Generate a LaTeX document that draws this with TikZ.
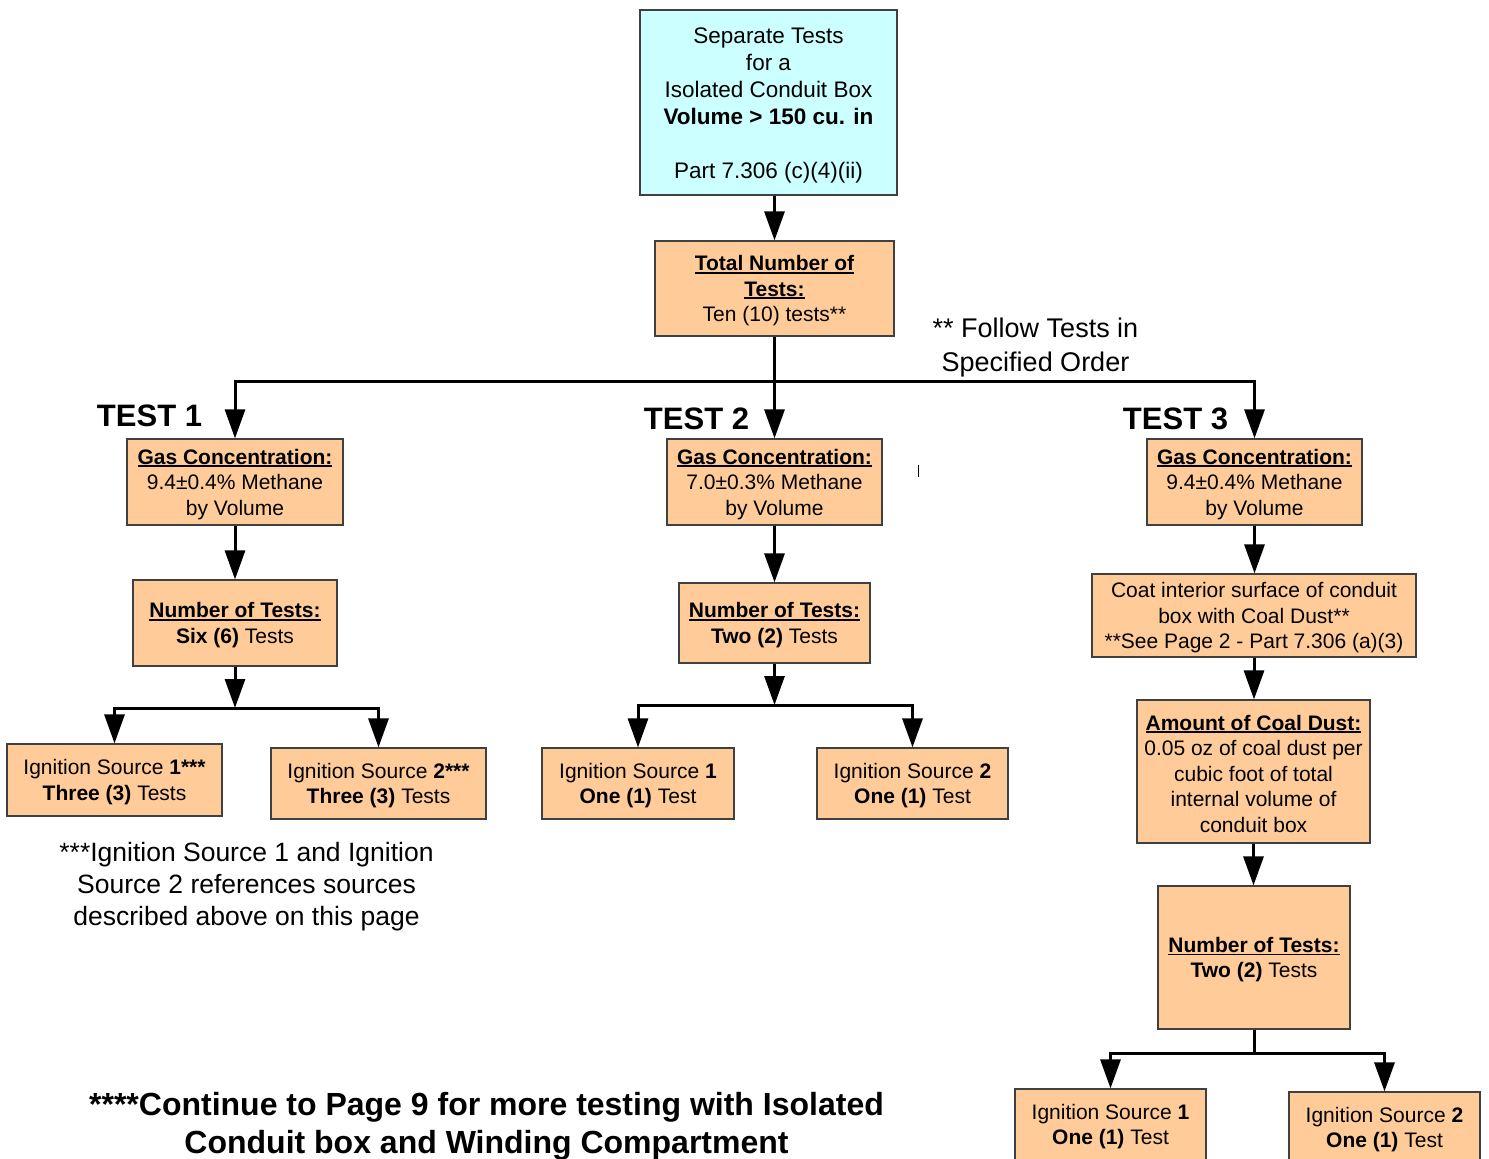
\documentclass[tikz,border=0pt]{standalone}
\usepackage{fontspec}
\setmainfont{Liberation Sans}
\usetikzlibrary{arrows.meta}
\definecolor{peach}{HTML}{FFCC99}
\definecolor{cyanbox}{HTML}{CCFFFF}
\newcommand{\hdr}[1]{\setbox0\hbox{\textbf{#1}}\rlap{\rule[-3pt]{\wd0}{1.8pt}}\box0}
\newcommand{\tp}{\rule{0pt}{19.5pt}}
\newcommand{\tpbig}{\rule{0pt}{21.5pt}}
\tikzset{
  box/.style={draw=black!75, line width=1.2pt, fill=peach, align=center, inner sep=0pt,
              font=\fontsize{21}{25.5}\selectfont},
  arr/.style={line width=3pt, -{Triangle[width=20pt,length=29pt]}},
  ln/.style={line width=3pt},
  testlbl/.style={inner sep=0pt, font=\fontsize{31}{37}\selectfont\bfseries}
}
\begin{document}
\begin{tikzpicture}[x=1pt,y=-1pt]
\clip (0,0) rectangle (1489,1159);
\fill[white] (0,0) rectangle (1489,1159);

% top box
\node[box, fill=cyanbox, minimum width=257pt, minimum height=185pt,
      font=\fontsize{22.5}{27}\selectfont] (top) at (768.5,102.5)
  {\tpbig Separate Tests\\for a\\Isolated Conduit Box\\\textbf{Volume > 150 cu. in}\\[27pt]Part 7.306 (c)(4)(ii)};

\node[box, minimum width=239pt, minimum height=95pt] (total) at (774.5,288.5)
  {\tp\hdr{Total Number of}\\\hdr{Tests:}\\Ten (10) tests**};

\node[align=center, inner sep=0pt, font=\fontsize{27}{34}\selectfont] (follow) at (1035.5,348)
  {** Follow Tests in\\Specified Order};

% test labels
\node[testlbl] (t1) at (149.5,416) {TEST 1};
\node[testlbl] (t2) at (696.5,419) {TEST 2};
\node[testlbl] (t3) at (1175.5,419) {TEST 3};

% column 1
\node[box, minimum width=216pt, minimum height=86pt] (gas1) at (235,482)
  {\tp\hdr{Gas Concentration:}\\9.4±0.4\% Methane\\by Volume};
\node[box, minimum width=204pt, minimum height=86pt] (num1) at (235,623)
  {\tp\hdr{Number of Tests:}\\\textbf{Six (6)} Tests};
\node[box, minimum width=215pt, minimum height=72pt] (is1a) at (114.5,780)
  {\tp Ignition Source \textbf{1***}\\\textbf{Three (3)} Tests};
\node[box, minimum width=215pt, minimum height=71pt] (is2a) at (378.5,783.5)
  {\tp Ignition Source \textbf{2***}\\\textbf{Three (3)} Tests};

% column 2
\node[box, minimum width=215pt, minimum height=86pt] (gas2) at (774.5,482)
  {\tp\hdr{Gas Concentration:}\\7.0±0.3\% Methane\\by Volume};
\node[box, minimum width=191pt, minimum height=80pt] (num2) at (774.5,623)
  {\tp\hdr{Number of Tests:}\\\textbf{Two (2)} Tests};
\node[box, minimum width=192pt, minimum height=71pt] (is1b) at (638,783.5)
  {\tp Ignition Source \textbf{1}\\\textbf{One (1)} Test};
\node[box, minimum width=191pt, minimum height=71pt] (is2b) at (912.5,783.5)
  {\tp Ignition Source \textbf{2}\\\textbf{One (1)} Test};

% column 3
\node[box, minimum width=215pt, minimum height=86pt] (gas3) at (1254.5,482)
  {\tp\hdr{Gas Concentration:}\\9.4±0.4\% Methane\\by Volume};
\node[box, minimum width=324pt, minimum height=83pt] (coat) at (1254,615.5)
  {\tp Coat interior surface of conduit\\box with Coal Dust**\\**See Page 2 - Part 7.306 (a)(3)};
\node[box, minimum width=233pt, minimum height=143pt] (amount) at (1253.5,771.5)
  {\tp\hdr{Amount of Coal Dust:}\\0.05 oz of coal dust per\\cubic foot of total\\internal volume of\\conduit box};
\node[box, minimum width=192pt, minimum height=143pt] (num3) at (1254,957.5)
  {\tp\hdr{Number of Tests:}\\\textbf{Two (2)} Tests};
\node[box, minimum width=191pt, minimum height=71pt] (is1c) at (1110.5,1124.5)
  {\tp Ignition Source \textbf{1}\\\textbf{One (1)} Test};
\node[box, minimum width=191pt, minimum height=71pt] (is2c) at (1384.5,1127.5)
  {\tp Ignition Source \textbf{2}\\\textbf{One (1)} Test};

% notes
\node[align=center, inner sep=0pt, font=\fontsize{26.5}{32}\selectfont] (note) at (246.5,887)
  {***Ignition Source 1 and Ignition\\Source 2 references sources\\described above on this page};
\node[align=center, inner sep=0pt, font=\fontsize{32}{38}\selectfont\bfseries] (cont) at (486.5,1126)
  {****Continue to Page 9 for more testing with Isolated\\Conduit box and Winding Compartment};

% stray tick
\coordinate (tickA) at (918,465);
\coordinate (tickB) at (918,477);
\draw[line width=1pt] (tickA) -- (tickB);

% connectors
\coordinate (hub) at (774.5,381);
\coordinate (s1) at (235,708);
\coordinate (s2) at (774.5,705);
\coordinate (s3) at (1254,1053);

\draw[arr] (total.north |- top.south) -- (total.north);
\draw[arr] (total.south) -- (gas2.north);
\draw[arr] (hub) -| (gas1.north);
\draw[arr] (hub) -| (gas3.north);

\draw[arr] (gas1.south) -- (num1.north);
\draw[arr] (num1.south) -- (s1);
\draw[arr] (s1) -| (is1a.north);
\draw[arr] (s1) -| (is2a.north);

\draw[arr] (gas2.south) -- (num2.north);
\draw[arr] (num2.south) -- (s2);
\draw[arr] (s2) -| (is1b.north);
\draw[arr] (s2) -| (is2b.north);

\draw[arr] (gas3.south) -- (gas3.south |- coat.north);
\draw[arr] (coat.south) -- (coat.south |- amount.north);
\draw[arr] (amount.south) -- (amount.south |- num3.north);
\draw[ln] (num3.south) -- (s3);
\draw[arr] (s3) -| (is1c.north);
\draw[arr] (s3) -| (is2c.north);
\end{tikzpicture}
\end{document}
